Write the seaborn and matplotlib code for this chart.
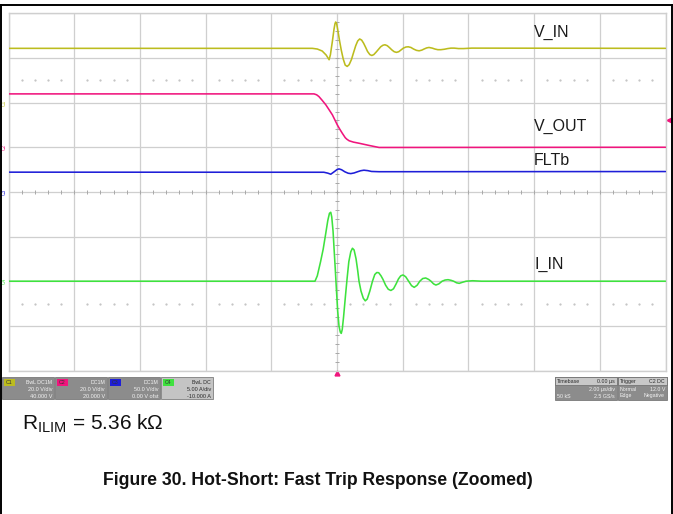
import numpy as np
import pandas as pd
import matplotlib
matplotlib.use('Agg')
import matplotlib.pyplot as plt
import seaborn as sns
from matplotlib.patches import Rectangle
from matplotlib.lines import Line2D

# traces: time in us, values in V or A
vin_t = [-10.0, -0.75, -0.6, -0.45, -0.33, -0.24, -0.20, -0.14, -0.09, -0.06, -0.04, -0.01,
         0.03, 0.08, 0.13, 0.19, 0.25, 0.31, 0.37, 0.44, 0.5, 0.57, 0.63, 0.69, 0.75, 0.81,
         0.87, 0.93, 1.0, 1.06, 1.12, 1.19, 1.26, 1.33, 1.40, 1.46, 1.53, 1.6, 1.67, 1.74,
         1.81, 1.88, 1.95, 2.02, 2.1, 2.17, 2.25, 2.33, 2.42, 2.5, 2.58, 2.65, 2.73, 2.8,
         2.9, 2.98, 3.07, 3.16, 3.27, 3.37, 3.47, 3.57, 3.7, 3.85, 4.1, 10.0]
vin_v = [24.3, 24.3, 24.0, 23.1, 21.3, 19.2, 21.5, 27.5, 33.0, 35.4, 36.1, 35.3,
         32.0, 27.5, 23.5, 19.5, 16.8, 16.2, 17.0, 19.3, 22.2, 25.5, 27.6, 28.5, 28.0, 26.6,
         24.8, 22.9, 21.5, 21.1, 21.5, 22.6, 23.8, 25.0, 25.7, 25.9, 25.5, 24.6, 23.6, 22.8,
         22.5, 22.8, 23.6, 24.4, 24.9, 25.0, 24.7, 24.0, 23.4, 23.2, 23.5, 24.0, 24.5, 24.7,
         24.4, 24.0, 23.7, 23.7, 23.9, 24.2, 24.4, 24.4, 24.2, 24.2, 24.4, 24.3]

vout_t = [-10.0, -0.70, -0.62, -0.55, -0.45, -0.34, -0.25, -0.14, 0.01, 0.08, 0.16, 0.25,
          0.30, 0.37, 0.5, 0.67, 0.98, 1.28, 10.0]
vout_v = [23.9, 23.9, 23.5, 22.7, 21.0, 19.0, 17.0, 14.5, 10.0, 8.2, 6.3, 4.3,
          3.6, 2.9, 2.3, 1.8, 0.8, -0.1, 0.0]

flt_t = [-10.0, -0.4, -0.28, -0.19, -0.07, 0.0, 0.06, 0.14, 0.24, 0.34, 0.42, 0.52,
         0.62, 0.72, 0.82, 0.94, 1.05, 1.28, 10.0]
flt_v = [22.1, 22.0, 21.0, 19.8, 23.0, 25.0, 25.8, 24.8, 22.5, 20.9, 20.5, 21.2,
         22.5, 23.7, 24.3, 23.8, 22.9, 22.6, 22.8]

iin_t = [-10.0, -0.67, -0.60, -0.50, -0.42, -0.35, -0.28, -0.23, -0.19, -0.16, -0.12, -0.09,
         -0.05, -0.02, 0.02, 0.06, 0.10, 0.13, 0.16, 0.20, 0.26, 0.31, 0.36, 0.42, 0.47,
         0.52, 0.58, 0.63, 0.67, 0.73, 0.80, 0.86, 0.92, 1.0, 1.08, 1.15, 1.21, 1.27, 1.34,
         1.40, 1.48, 1.56, 1.64, 1.72, 1.80, 1.87, 1.94, 2.01, 2.09, 2.18, 2.27, 2.35, 2.44,
         2.52, 2.61, 2.70, 2.79, 2.86, 2.94, 3.01, 3.10, 3.20, 3.29, 3.38, 3.47, 3.55, 3.64,
         3.72, 3.82, 3.93, 4.13, 4.4, 10.0]
iin_v = [0.0, 0.0, 0.6, 2.19, 3.6, 5.18, 6.8, 7.6, 7.72, 7.2, 5.6, 3.69,
         1.2, -0.8, -3.3, -5.0, -5.7, -5.84, -5.4, -4.0, -1.55, 0.4, 2.19, 3.3, 3.69,
         3.5, 2.5, 1.2, 0.0, -1.1, -1.9, -2.2, -2.0, -1.1, 0.0, 0.75, 0.97, 0.95, 0.6,
         0.2, -0.45, -0.9, -1.04, -0.85, -0.3, 0.25, 0.6, 0.70, 0.5, 0.0, -0.5, -0.69, -0.45,
         0.0, 0.3, 0.36, 0.2, 0.0, -0.3, -0.43, -0.3, 0.0, 0.13, 0.17, 0.1, 0.0, -0.18,
         -0.24, -0.12, 0.0, 0.05, 0.0, 0.0]

channels = ['V_IN', 'V_OUT', 'FLTb', 'I_IN']
ch_scale = [20.0, 20.0, 50.0, 5.0]      # units per division
ch_ground = [2.0, 1.0, 0.0, -2.0]       # zero level, in divisions from centre
ch_colors = ['#bcbc1e', '#f0157d', '#1e1ed8', '#3ee23e']
label_div = [3.57, 1.46, 0.70, -1.63]

trig_time = 0.0
trig_level = 12.0   # on C2

ch_names = ['C1', 'C2', 'C3', 'C4']
ch_coupling = ['BwL DC1M', 'DC1M', 'DC1M', 'BwL DC']
ch_vdiv = ['20.0 V/div', '20.0 V/div', '50.0 V/div', '5.00 A/div']
ch_offset = ['40.000 V', '20.000 V', '0.00 V ofst', '-10.000 A']

frames = []
for name, t, v, s, g in zip(channels, [vin_t, vout_t, flt_t, iin_t],
                            [vin_v, vout_v, flt_v, iin_v], ch_scale, ch_ground):
    frames.append(pd.DataFrame({'t': t, 'div': np.array(v) / s + g, 'ch': name}))
df = pd.concat(frames, ignore_index=True)

sns.set_style('white')
plt.rcParams['font.family'] = ['Liberation Sans', 'DejaVu Sans']
plt.rcParams['mathtext.fontset'] = 'custom'
plt.rcParams['mathtext.rm'] = 'Liberation Sans'

W, H = 673, 514
fig = plt.figure(figsize=(W / 100, H / 100), dpi=100)
ax = fig.add_axes([8.5 / W, 1 - 370.5 / H, 657 / W, 357.2 / H])

grid_c = '#cfcfcf'
ax.set_xlim(-10, 10)
ax.set_ylim(-4, 4)
ax.set_xticks(np.arange(-10, 11, 2))
ax.set_yticks(np.arange(-4, 5, 1))
ax.grid(True, color=grid_c, lw=0.9)
ax.tick_params(length=0, labelbottom=False, labelleft=False)
for sp in ax.spines.values():
    sp.set_color(grid_c)
    sp.set_linewidth(1.0)

# centre-line minor ticks and dotted rows
xs = np.arange(-10, 10.01, 0.4)
ax.plot(xs, np.zeros_like(xs), ls='none', marker='|', ms=3, mew=0.7, color='#a8a8a8')
ys = np.arange(-4, 4.01, 0.2)
ax.plot(np.zeros_like(ys), ys, ls='none', marker='_', ms=3, mew=0.7, color='#a8a8a8')
dots = xs[np.abs(xs / 2 - np.round(xs / 2)) > 0.05]
for yd in (2.5, -2.5):
    ax.plot(dots, np.full_like(dots, yd), ls='none', marker='.', ms=1.1, color='#bdbdbd')

sns.lineplot(data=df, x='t', y='div', hue='ch', hue_order=channels,
             palette=dict(zip(channels, ch_colors)), estimator=None, sort=False,
             legend=False, lw=1.15, ax=ax, zorder=3)
ax.set_xlabel('')
ax.set_ylabel('')

for name, yd in zip(channels, label_div):
    ax.text(6.0, yd, name, fontsize=11.5, color='#1a1a1a', va='center', ha='left')

# channel ground markers on the left edge
for cn, g, c in zip(ch_names, ch_ground, ch_colors):
    ax.text(-10.14, g, cn, fontsize=3.5, color=c, rotation=90,
            ha='center', va='center', clip_on=False)

# trigger markers
ax.plot(trig_time, -4.06, marker='^', ms=3.5, color=ch_colors[1], clip_on=False)
ax.plot(10.1, trig_level / ch_scale[1] + ch_ground[1], marker='<', ms=3.5,
        color=ch_colors[1], clip_on=False)


def box(x0, y0, x1, y1, fc, ec='#6a6a6a'):
    fig.add_artist(Rectangle((x0 / W, 1 - y1 / H), (x1 - x0) / W, (y1 - y0) / H,
                             transform=fig.transFigure, fc=fc, ec=ec, lw=0.5))


def txt(x, y, s, **kw):
    fig.text(x / W, 1 - y / H, s, **kw)


for i, cn in enumerate(ch_names):
    x0 = 2 + i * 53
    light = i == 3
    box(x0, 377, x0 + 52, 399, '#c4c4c4' if light else '#8c8c8c')
    box(x0 + 2, 378.5, x0 + 13, 385.5, ch_colors[i], ec='none')
    tc = '#2a2a2a' if light else '#f2f2f2'
    txt(x0 + 7.5, 382, cn, fontsize=3.8, color='#333333', ha='center', va='center')
    txt(x0 + 50, 382, ch_coupling[i], fontsize=3.8, color=tc, ha='right', va='center')
    txt(x0 + 50, 389.5, ch_vdiv[i], fontsize=4, color=tc, ha='right', va='center')
    txt(x0 + 50, 396, ch_offset[i], fontsize=4, color=tc, ha='right', va='center')

# timebase / trigger boxes
box(555, 377, 617, 400, '#8c8c8c')
box(555, 377, 617, 385, '#c8c8c8')
box(618, 377, 667, 400, '#8c8c8c')
box(618, 377, 667, 385, '#c8c8c8')
txt(557, 381.5, 'Timebase', fontsize=3.8, color='#2a2a2a', va='center')
txt(615, 381.5, '0.00 µs', fontsize=3.8, color='#2a2a2a', ha='right', va='center')
txt(615, 389.5, '2.00 µs/div', fontsize=3.8, color='#f2f2f2', ha='right', va='center')
txt(557, 396, '50 kS', fontsize=3.8, color='#f2f2f2', va='center')
txt(615, 396, '2.5 GS/s', fontsize=3.8, color='#f2f2f2', ha='right', va='center')
txt(620, 381.5, 'Trigger', fontsize=3.8, color='#2a2a2a', va='center')
txt(665, 381.5, 'C2 DC', fontsize=3.8, color='#2a2a2a', ha='right', va='center')
txt(620, 389.5, 'Normal', fontsize=3.8, color='#f2f2f2', va='center')
txt(665, 389.5, '12.0 V', fontsize=3.8, color='#f2f2f2', ha='right', va='center')
txt(620, 396, 'Edge', fontsize=3.8, color='#f2f2f2', va='center')
txt(665, 396, 'Negative', fontsize=3.8, color='#f2f2f2', ha='right', va='center')

txt(22, 429.5, r'R$_{\mathrm{ILIM}}$ = 5.36 kΩ', fontsize=15, color='#111111', va='baseline')
txt(103, 485, 'Figure 30. Hot-Short: Fast Trip Response (Zoomed)', fontsize=12.7,
    fontweight='bold', color='#111111', va='baseline')

# page frame
for xa, ya in (([0, 1], [1 - 5 / H] * 2), ([0.7 / W] * 2, [0, 1 - 5 / H]),
               ([1 - 0.7 / W] * 2, [0, 1 - 5 / H])):
    fig.add_artist(Line2D(xa, ya, transform=fig.transFigure, color='black', lw=1.4))

fig.savefig('out.png', dpi=100)
